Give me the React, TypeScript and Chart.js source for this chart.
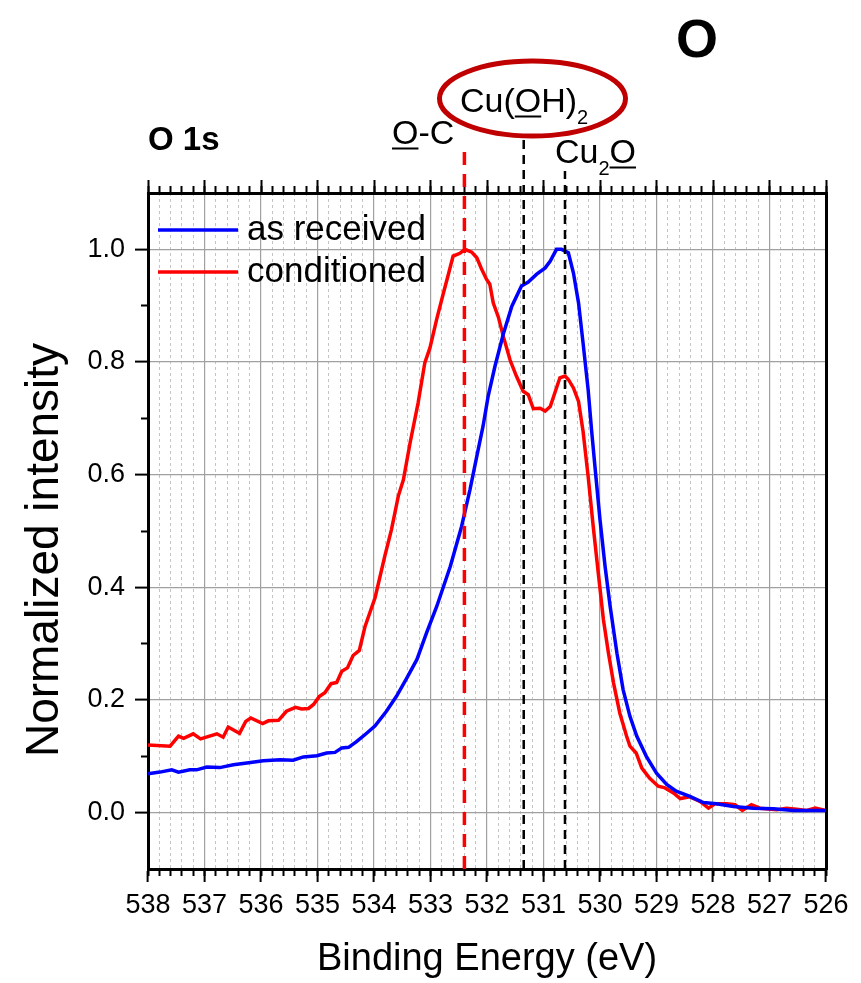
import React, { useEffect, useRef } from "react";
import { Chart, registerables } from "chart.js";

Chart.register(...registerables);

const FONT = "'Liberation Sans', Arial, Helvetica, sans-serif";

// ---- data (binding energy in eV, normalized intensity) ----
const energyAsReceived = [
  538.0, 537.79, 537.58, 537.46, 537.26, 537.14, 536.96, 536.73, 536.49, 536.25,
  535.96, 535.66, 535.43, 535.25, 535.01, 534.84, 534.69, 534.57, 534.45, 534.31,
  534.13, 533.98, 533.78, 533.6, 533.42, 533.24, 533.07, 532.89, 532.65, 532.45,
  532.3, 532.18, 532.07, 531.98, 531.86, 531.71, 531.56, 531.39, 531.27, 531.12,
  530.97, 530.88, 530.77, 530.68, 530.56, 530.47, 530.38, 530.3, 530.21, 530.15,
  530.09, 530.0, 529.91, 529.82, 529.7, 529.59, 529.47, 529.35, 529.18, 529.0,
  528.82, 528.65, 528.41, 528.17, 527.94, 527.64, 527.29, 526.93, 526.58, 526.28,
  526.0,
];
const intensityAsReceived = [
  0.069, 0.072, 0.076, 0.072, 0.076, 0.076, 0.081, 0.08, 0.085, 0.088,
  0.092, 0.094, 0.093, 0.099, 0.101, 0.106, 0.107, 0.115, 0.116, 0.126,
  0.141, 0.154, 0.18, 0.207, 0.239, 0.272, 0.319, 0.366, 0.437, 0.508,
  0.574, 0.633, 0.686, 0.739, 0.792, 0.85, 0.899, 0.935, 0.942, 0.956,
  0.967, 0.979, 1.0, 1.0, 0.994, 0.958, 0.905, 0.834, 0.751, 0.68,
  0.615, 0.52, 0.437, 0.366, 0.283, 0.218, 0.171, 0.136, 0.1, 0.07,
  0.05, 0.038, 0.029, 0.018, 0.016, 0.011, 0.008, 0.007, 0.004, 0.004,
  0.004,
];
const energyConditioned = [
  538.0, 537.61, 537.46, 537.37, 537.2, 537.07, 536.78, 536.67, 536.58, 536.38,
  536.27, 536.18, 535.97, 535.87, 535.69, 535.55, 535.39, 535.28, 535.16, 535.07,
  534.97, 534.87, 534.76, 534.66, 534.57, 534.47, 534.37, 534.26, 534.16, 533.98,
  533.81, 533.69, 533.57, 533.48, 533.36, 533.22, 533.1, 533.01, 532.89, 532.77,
  532.69, 532.6, 532.48, 532.39, 532.27, 532.18, 532.1, 532.01, 531.95, 531.89,
  531.8, 531.71, 531.59, 531.48, 531.36, 531.27, 531.18, 531.06, 530.97, 530.88,
  530.8, 530.71, 530.62, 530.56, 530.47, 530.38, 530.3, 530.21, 530.12, 530.03,
  529.94, 529.85, 529.76, 529.65, 529.53, 529.47, 529.36, 529.26, 529.12, 528.97,
  528.85, 528.7, 528.58, 528.41, 528.23, 528.08, 527.96, 527.76, 527.61, 527.48,
  527.32, 527.17, 526.87, 526.7, 526.52, 526.34, 526.19, 526.0,
];
const intensityConditioned = [
  0.12, 0.118, 0.136, 0.132, 0.14, 0.131, 0.14, 0.134, 0.152, 0.141,
  0.162, 0.168, 0.158, 0.163, 0.164, 0.18, 0.187, 0.184, 0.185, 0.192,
  0.206, 0.213, 0.229, 0.231, 0.251, 0.257, 0.279, 0.288, 0.33, 0.382,
  0.455, 0.503, 0.562, 0.591, 0.657, 0.727, 0.799, 0.825, 0.876, 0.923,
  0.953, 0.988, 0.993, 1.0, 0.995, 0.985, 0.966, 0.947, 0.938, 0.905,
  0.88, 0.845, 0.803, 0.775, 0.748, 0.742, 0.717, 0.718, 0.713, 0.721,
  0.745, 0.772, 0.775, 0.769, 0.754, 0.73, 0.677, 0.597, 0.508, 0.425,
  0.343, 0.283, 0.23, 0.177, 0.136, 0.118, 0.106, 0.079, 0.061, 0.047,
  0.044, 0.035, 0.025, 0.028, 0.02, 0.008, 0.016, 0.016, 0.014, 0.004,
  0.014, 0.008, 0.005, 0.008, 0.006, 0.004, 0.008, 0.004,
];

const seriesLabels = ["as received", "conditioned"];
const seriesColors = ["#0000ff", "#ff0000"];

// reference peak positions (dashed markers)
const peakEnergies = [532.4, 531.35, 530.62];
const peakTops = [1.175, 1.2, 1.139];
const peakColors = ["#ff0000", "#000000", "#000000"];

// axes
const xMin = 526;
const xMax = 538;
const yMin = -0.1;
const yMax = 1.1;
const xMajorTicks = [538, 537, 536, 535, 534, 533, 532, 531, 530, 529, 528, 527, 526];
const yMajorTicks = [0.0, 0.2, 0.4, 0.6, 0.8, 1.0];
const yMinorTicks = [0.1, 0.3, 0.5, 0.7, 0.9];
const xMinorTicks: number[] = [];
for (let i = 0; i <= 60; i++) xMinorTicks.push(Math.round((xMin + i * 0.2) * 10) / 10);

const xTitle = "Binding Energy (eV)";
const yTitle = "Normalized intensity";

const isWhole = (v: number) => Math.abs(v - Math.round(v)) < 1e-6;

const setTicks = (vals: number[]) => (s: any) => {
  s.ticks = vals.map((v) => ({ value: v }));
};

const overlayPlugin = {
  id: "overlay",
  afterDraw(chart: any) {
    const ctx = chart.ctx as CanvasRenderingContext2D;
    ctx.save();
    ctx.fillStyle = "#000";
    ctx.textBaseline = "alphabetic";
    ctx.textAlign = "left";

    // y axis title
    ctx.save();
    ctx.translate(58, 550);
    ctx.rotate(-Math.PI / 2);
    ctx.font = `46px ${FONT}`;
    ctx.textAlign = "center";
    ctx.fillText(yTitle, 0, 0);
    ctx.restore();

    // legend
    const ds = chart.data.datasets;
    for (let i = 0; i < 2; i++) {
      const y = 230 + i * 42;
      ctx.strokeStyle = ds[i].borderColor;
      ctx.lineWidth = 3.5;
      ctx.beginPath();
      ctx.moveTo(158, y);
      ctx.lineTo(238, y);
      ctx.stroke();
      ctx.font = `35px ${FONT}`;
      ctx.textBaseline = "middle";
      ctx.fillStyle = "#000";
      ctx.fillText(ds[i].label, 247, y);
    }
    ctx.textBaseline = "alphabetic";

    // panel labels
    ctx.font = `bold 33px ${FONT}`;
    ctx.fillText("O 1s", 148, 150);
    ctx.font = `bold 54px ${FONT}`;
    ctx.textAlign = "center";
    ctx.fillText("O", 697, 57);
    ctx.textAlign = "left";

    type Seg = { t: string; size: number; base: number; u?: boolean };
    const drawSegs = (x0: number, segs: Seg[]) => {
      let x = x0;
      for (const s of segs) {
        ctx.font = `${s.size}px ${FONT}`;
        ctx.fillText(s.t, x, s.base);
        const w = ctx.measureText(s.t).width;
        if (s.u) ctx.fillRect(x, s.base + 3.5, w, 2);
        x += w;
      }
    };
    drawSegs(392, [
      { t: "O", size: 34, base: 144, u: true },
      { t: "-C", size: 34, base: 144 },
    ]);
    drawSegs(460, [
      { t: "Cu(", size: 34, base: 112 },
      { t: "O", size: 34, base: 112, u: true },
      { t: "H)", size: 34, base: 112 },
      { t: "2", size: 20, base: 124 },
    ]);
    drawSegs(555, [
      { t: "Cu", size: 34, base: 163 },
      { t: "2", size: 20, base: 175 },
      { t: "O", size: 34, base: 163, u: true },
    ]);

    // highlight ellipse
    ctx.strokeStyle = "#c00000";
    ctx.lineWidth = 5;
    ctx.beginPath();
    ctx.ellipse(532.5, 98.5, 93, 37.5, 0, 0, Math.PI * 2);
    ctx.stroke();
    ctx.restore();
  },
};

export default function App() {
  const ref = useRef<HTMLCanvasElement | null>(null);

  useEffect(() => {
    if (!ref.current) return;
    const seriesData = [
      energyAsReceived.map((e, i) => ({ x: e, y: intensityAsReceived[i] })),
      energyConditioned.map((e, i) => ({ x: e, y: intensityConditioned[i] })),
    ];
    const datasets: any[] = seriesLabels.map((label, i) => ({
      label,
      data: seriesData[i],
      borderColor: seriesColors[i],
      backgroundColor: seriesColors[i],
      borderWidth: 3.5,
      pointRadius: 0,
      tension: 0,
      fill: false,
    }));
    peakEnergies.forEach((e, i) => {
      datasets.push({
        label: "peak" + i,
        data: [
          { x: e, y: yMin },
          { x: e, y: peakTops[i] },
        ],
        borderColor: peakColors[i],
        borderWidth: i === 0 ? 3.5 : 2.5,
        borderDash: i === 0 ? [13, 9] : [9, 6],
        pointRadius: 0,
        clip: false,
        order: -1,
      });
    });

    const tickFont = { family: FONT, size: 27 };
    const xCommon = { type: "linear", min: xMin, max: xMax, reverse: true };
    const yCommon = { type: "linear", min: yMin, max: yMax };

    const chart = new Chart(ref.current, {
      type: "line",
      data: { datasets },
      plugins: [overlayPlugin],
      options: {
        animation: false,
        responsive: false,
        devicePixelRatio: 1,
        layout: { padding: { top: 180, right: 35, bottom: 0, left: 0 } },
        plugins: { legend: { display: false }, tooltip: { enabled: false } },
        scales: {
          x: {
            ...xCommon,
            position: "bottom",
            weight: 1,
            afterBuildTicks: setTicks(xMajorTicks),
            afterFit: (s: any) => {
              s.height = 114;
            },
            ticks: {
              font: tickFont,
              color: "#000",
              padding: 7,
              maxRotation: 0,
              autoSkip: false,
              callback: (v: any) => String(Math.round(Number(v))),
            },
            grid: { color: "#a0a0a0", lineWidth: 1.2, tickLength: 13, tickWidth: 2, tickColor: "#000" },
            border: { color: "#000", width: 3 },
            title: {
              display: true,
              text: xTitle,
              color: "#000",
              font: { family: FONT, size: 38, lineHeight: 1 },
              padding: { top: 0, bottom: 4 },
            },
          },
          xMinor: {
            ...xCommon,
            position: "bottom",
            weight: 0,
            afterBuildTicks: setTicks(xMinorTicks),
            afterFit: (s: any) => {
              s.height = 0;
            },
            ticks: { display: false },
            grid: {
              color: (c: any) => (c.tick && isWhole(c.tick.value) ? "rgba(0,0,0,0)" : "#c4c4c4"),
              lineWidth: 1,
              tickLength: 7,
              tickWidth: 2,
              tickColor: "#000",
            },
            border: { display: false, dash: [3, 3] },
          },
          xTop: {
            ...xCommon,
            position: "top",
            weight: 1,
            afterBuildTicks: setTicks(xMajorTicks),
            afterFit: (s: any) => {
              s.height = 13;
            },
            ticks: { display: false },
            grid: { drawOnChartArea: false, tickLength: 13, tickWidth: 2, tickColor: "#000" },
            border: { color: "#000", width: 3 },
          },
          xTopMinor: {
            ...xCommon,
            position: "top",
            weight: 0,
            afterBuildTicks: setTicks(xMinorTicks),
            afterFit: (s: any) => {
              s.height = 0;
            },
            ticks: { display: false },
            grid: { drawOnChartArea: false, tickLength: 7, tickWidth: 2, tickColor: "#000" },
            border: { display: false },
          },
          y: {
            ...yCommon,
            position: "left",
            weight: 1,
            afterBuildTicks: setTicks(yMajorTicks),
            afterFit: (s: any) => {
              s.width = 148;
            },
            ticks: {
              font: tickFont,
              color: "#000",
              padding: 10,
              callback: (v: any) => Number(v).toFixed(1),
            },
            grid: { color: "#a0a0a0", lineWidth: 1.2, tickLength: 13, tickWidth: 2, tickColor: "#000" },
            border: { color: "#000", width: 3 },
            title: { display: false },
          },
          yMinor: {
            ...yCommon,
            position: "left",
            weight: 0,
            afterBuildTicks: setTicks(yMinorTicks),
            afterFit: (s: any) => {
              s.width = 0;
            },
            ticks: { display: false },
            grid: { drawOnChartArea: false, tickLength: 7, tickWidth: 2, tickColor: "#000" },
            border: { display: false },
          },
          yRight: {
            ...yCommon,
            position: "right",
            afterBuildTicks: setTicks([yMin, yMax]),
            afterFit: (s: any) => {
              s.width = 0;
            },
            ticks: { display: false },
            grid: { drawOnChartArea: false, drawTicks: false },
            border: { color: "#000", width: 3 },
          },
        },
      } as any,
    } as any);
    return () => chart.destroy();
  }, []);

  return (
    <div style={{ position: "absolute", left: 0, top: 0, width: 861, height: 983, background: "#fff" }}>
      <canvas ref={ref} width={861} height={983} />
    </div>
  );
}
